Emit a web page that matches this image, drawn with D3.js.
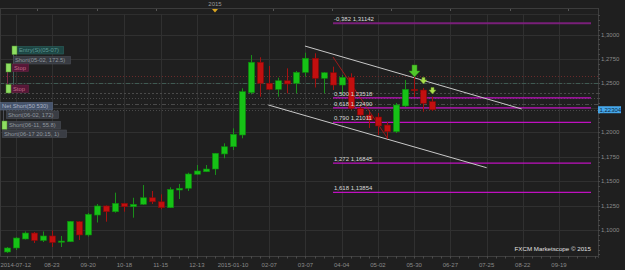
<!DOCTYPE html>
<html>
<head>
<meta charset="utf-8">
<script src="https://d3js.org/d3.v7.min.js"></script>
<style>
  body { margin: 0; background: #1f1f1f; }
  svg { display: block; font-family: "Liberation Sans", Arial, sans-serif; }
</style>
</head>
<body>
<svg id="grafico" width="625" height="270"></svg>
<script>
// Semanas (índice de vela) e valores OHLC
let abertura = [1.0775,1.0816,1.0908,1.0969,1.0893,1.0939,1.0882,1.0880,1.1085,1.0949,1.1153,1.1246,1.1187,1.1273,1.1238,1.1263,1.1330,1.1289,1.1228,1.1409,1.1427,1.1570,1.1596,1.1624,1.1778,1.1852,1.1972,1.2405,1.2716,1.2501,1.2439,1.2527,1.2501,1.2613,1.2757,1.2552,1.2609,1.2483,1.2562,1.2245,1.2176,1.2156,1.2074,1.2006,1.2269,1.2439,1.2432,1.2313];
let maxima = [1.0826,1.0928,1.0985,1.0980,1.0985,1.0995,1.0939,1.1092,1.1092,1.1174,1.1266,1.1251,1.1382,1.1276,1.1330,1.1460,1.1399,1.1365,1.1437,1.1471,1.1586,1.1665,1.1665,1.1788,1.1887,1.2040,1.2450,1.2790,1.2767,1.2678,1.2558,1.2654,1.2627,1.2814,1.2808,1.2616,1.2671,1.2586,1.2603,1.2269,1.2207,1.2197,1.2108,1.2299,1.2535,1.2568,1.2453,1.2364];
let minima = [1.0765,1.0795,1.0903,1.0867,1.0877,1.0826,1.0826,1.0877,1.0898,1.0933,1.1077,1.1085,1.1177,1.1187,1.1126,1.1256,1.1266,1.1212,1.1225,1.1317,1.1399,1.1563,1.1593,1.1563,1.1734,1.1818,1.1938,1.2388,1.2364,1.2432,1.2364,1.2398,1.2398,1.2568,1.2458,1.2398,1.2432,1.2381,1.2228,1.2166,1.2043,1.1972,1.1931,1.1992,1.2258,1.2361,1.2210,1.2217];
let fechamento = [1.0816,1.0918,1.0969,1.0893,1.0939,1.0872,1.0887,1.1089,1.0949,1.1161,1.1246,1.1187,1.1273,1.1238,1.1263,1.1330,1.1289,1.1228,1.1416,1.1427,1.1573,1.1604,1.1624,1.1785,1.1852,1.1979,1.2415,1.2716,1.2501,1.2439,1.2527,1.2494,1.2613,1.2757,1.2552,1.2609,1.2483,1.2562,1.2245,1.2176,1.2125,1.2064,1.2006,1.2279,1.2439,1.2425,1.2296,1.22304];

// Rótulos do eixo X (índice da semana)
let rotulosX = ["2014-07-12","08-23","09-20","10-18","11-15","12-13","2015-01-10","02-07","03-07","04-04","05-02","05-30","06-27","07-25","08-22","09-19"];
let indicesX = [1,5,9,13,17,21,25,29,33,37,41,45,49,53,57,61];

// Eixo Y
let ticksY = [1.1, 1.125, 1.15, 1.175, 1.2, 1.225, 1.25, 1.275, 1.3];
let precoAtual = 1.22304;

// Fibonacci
let fibNiveis = ["-0,382","0,500","0,618","0,790","1,272","1,618"];
let fibPrecos = [1.31142, 1.23518, 1.22490, 1.21011, 1.16845, 1.13854];

// Linhas de ordens (horizontais)
let ordensPrecos = [1.2575, 1.2501, 1.2398, 1.2347, 1.2286, 1.2228];

// Canal (índice, preço)
let canalSup = [[32.94, 1.2882], [56.88, 1.2238]];
let canalInf = [[28.89, 1.2279], [53.01, 1.1637]];
let linhaVermelha = [[36.04, 1.2770], [42.11, 1.1931]];

// Setas (índice, preço da ponta)
let setas = [[45, 1.2565], [46, 1.2494], [47, 1.2391]];

// Etiquetas de ordens
let etiquetas = ["Entry(S)(05-07)", "Short(05-02, 172.5)", "Stop", "Stop", "Net Short(50 530)", "Short(06-02, 172)", "Short(06-11, 55.8)", "Short(06-17 20:15, 1)"];

let svg = d3.select("#grafico");
let direita = 598, topo = 14, base = 256;

let fnX = d3.scaleLinear().domain([0, 61]).range([6.7, 559]);
let fnY = d3.scaleLinear().domain([1.1, 1.3]).range([230, 34.5]);

svg.append("rect").attr("width", 625).attr("height", 270).attr("fill", "#1f1f1f");

// faixa superior
svg.append("line").attr("x1", 0).attr("x2", direita).attr("y1", 8.5).attr("y2", 8.5).attr("stroke", "#3c3c3c");
svg.append("line").attr("x1", 0).attr("x2", direita).attr("y1", topo + 0.5).attr("y2", topo + 0.5).attr("stroke", "#2e2e2e");
[37, 97, 156, 273, 332, 391, 450, 510, 568].forEach((x) => {
  svg.append("line").attr("x1", x + 0.5).attr("x2", x + 0.5).attr("y1", 9).attr("y2", 11).attr("stroke", "#555");
});
svg.append("text").text("2015").attr("x", 215).attr("y", 6).attr("text-anchor", "middle")
  .attr("font-size", 6).attr("fill", "#999");
svg.append("path").attr("d", "M212,9 L218,9 L215,12.5 Z").attr("fill", "#d9a520");

// grade
let plot = svg.append("g");
plot.selectAll(".gradeH").data(ticksY).enter().append("line")
  .attr("x1", 0).attr("x2", direita)
  .attr("y1", (d) => Math.round(fnY(d)) + 0.5).attr("y2", (d) => Math.round(fnY(d)) + 0.5)
  .attr("stroke", "#303030");
plot.selectAll(".gradeV").data(indicesX).enter().append("line")
  .attr("x1", (d) => Math.round(fnX(d)) + 0.5).attr("x2", (d) => Math.round(fnX(d)) + 0.5)
  .attr("y1", topo).attr("y2", base)
  .attr("stroke", "#303030");
svg.append("line").attr("x1", 0.5).attr("x2", 0.5).attr("y1", 8).attr("y2", base).attr("stroke", "#3a3a3a");

// linhas de ordens
let estilosOrdens = [
  { cor: "#6a2a2a", dash: "1,2" },
  { cor: "#3f5a52", dash: "4,2,1,2" },
  { cor: "#4a4a4a", dash: "2,2" },
  { cor: "#4a4a4a", dash: "1,2" },
  { cor: "#4a4a4a", dash: "4,2,1,2" },
  { cor: "#4a4a4a", dash: "1,2" }
];
plot.selectAll(".ordem").data(ordensPrecos).enter().append("line")
  .attr("x1", 0).attr("x2", direita)
  .attr("y1", (d) => Math.round(fnY(d)) + 0.5).attr("y2", (d) => Math.round(fnY(d)) + 0.5)
  .attr("stroke", (d, i) => estilosOrdens[i].cor)
  .attr("stroke-dasharray", (d, i) => estilosOrdens[i].dash);

// fibonacci (linhas)
plot.selectAll(".fib").data(fibPrecos).enter().append("line")
  .attr("x1", fnX(36.04)).attr("x2", 591)
  .attr("y1", (d) => fnY(d)).attr("y2", (d) => fnY(d))
  .attr("stroke", (d, i) => (i === 0 ? "#7a1f7a" : "#c010c0"))
  .attr("stroke-width", (d, i) => (i === 0 ? 2 : 1.3));

// canal
[canalSup, canalInf].forEach((seg) => {
  plot.append("line")
    .attr("x1", fnX(seg[0][0])).attr("y1", fnY(seg[0][1]))
    .attr("x2", fnX(seg[1][0])).attr("y2", fnY(seg[1][1]))
    .attr("stroke", "#c8c8c8").attr("stroke-width", 1);
});
plot.append("line")
  .attr("x1", fnX(linhaVermelha[0][0])).attr("y1", fnY(linhaVermelha[0][1]))
  .attr("x2", fnX(linhaVermelha[1][0])).attr("y2", fnY(linhaVermelha[1][1]))
  .attr("stroke", "#c01818").attr("stroke-width", 0.8);

// velas
let velas = abertura.map((o, i) => ({ i: i, o: o, h: maxima[i], l: minima[i], c: fechamento[i] }));
let g = plot.selectAll(".vela").data(velas).enter().append("g");
g.append("line")
  .attr("x1", (d) => Math.round(fnX(d.i)) + 0.5).attr("x2", (d) => Math.round(fnX(d.i)) + 0.5)
  .attr("y1", (d) => fnY(d.h)).attr("y2", (d) => fnY(d.l))
  .attr("stroke", (d) => (d.c >= d.o ? "#1a8f1a" : "#a51212"));
g.append("rect")
  .attr("x", (d) => Math.round(fnX(d.i)) - 2.5)
  .attr("y", (d) => fnY(Math.max(d.o, d.c)))
  .attr("width", 6)
  .attr("height", (d) => Math.max(1.2, Math.abs(fnY(d.o) - fnY(d.c))))
  .attr("fill", (d) => (d.c >= d.o ? "#16c216" : "#c20f0f"))
  .attr("stroke", (d) => (d.c >= d.o ? "#0d8a0d" : "#860909"))
  .attr("stroke-width", 0.6);

// fibonacci (rótulos por cima das velas)
plot.selectAll(".fibRotulo").data(fibPrecos).enter().append("text")
  .text((d, i) => fibNiveis[i] + " " + d.toFixed(5).replace(".", ","))
  .attr("x", fnX(36.04) + 1).attr("y", (d) => fnY(d) - 2)
  .attr("font-size", 6).attr("fill", "#d8d8d8");

// setas
setas.forEach((s, k) => {
  let x = Math.round(fnX(s[0])) + 0.5;
  let y = fnY(s[1]);
  let grande = k === 0;
  let hw = grande ? 5.5 : 3.5, hh = grande ? 6 : 4, sw = grande ? 2.5 : 1.5, sh = grande ? 6 : 2.5;
  plot.append("path")
    .attr("d", `M${x - sw},${y - hh - sh} L${x + sw},${y - hh - sh} L${x + sw},${y - hh} L${x + hw},${y - hh} L${x},${y} L${x - hw},${y - hh} L${x - sw},${y - hh} Z`)
    .attr("fill", grande ? "#4fc82a" : "#a8e04a")
    .attr("stroke", grande ? "#2f8a18" : "#6a9a2a").attr("stroke-width", 0.5);
});

// etiquetas de ordens
let caixas = [
  { x: 12, y: 46, w: 51, fundo: "#1d4644", borda: "#2c6360", texto: "#5f9894", marca: 12 },
  { x: 13, y: 56, w: 57, fundo: "#383b42", borda: "#4a4d55", texto: "#8f969e" },
  { x: 12, y: 63.5, w: 16, fundo: "#561737", borda: "#6a2447", texto: "#c06a8a", marca: 6 },
  { x: 11, y: 84.5, w: 17, fundo: "#561737", borda: "#6a2447", texto: "#c06a8a", marca: 6 },
  { x: 0, y: 102, w: 52, fundo: "#46546c", borda: "#5a6a84", texto: "#aab2c4" },
  { x: 6, y: 110.5, w: 52, fundo: "#3a3d44", borda: "#4a4d55", texto: "#8f969e" },
  { x: 3, y: 121, w: 57, fundo: "#3a3d44", borda: "#4a4d55", texto: "#8f969e", marca: 2 },
  { x: 2, y: 129.5, w: 64, fundo: "#3a3d44", borda: "#4a4d55", texto: "#8f969e" }
];
svg.append("line").attr("x1", 13.5).attr("x2", 13.5).attr("y1", 54).attr("y2", 85).attr("stroke", "#3f5f58");
svg.append("line").attr("x1", 7.5).attr("x2", 7.5).attr("y1", 71).attr("y2", 85).attr("stroke", "#7a2a4a");
svg.append("line").attr("x1", 3.5).attr("x2", 3.5).attr("y1", 110).attr("y2", 121).attr("stroke", "#4a4d55");
caixas.forEach((c, i) => {
  svg.append("rect").attr("x", c.x + 0.5).attr("y", c.y + 0.5).attr("width", c.w).attr("height", 7.5)
    .attr("fill", c.fundo).attr("stroke", c.borda).attr("stroke-width", 0.6);
  let tx = c.marca !== undefined ? Math.max(c.x + 2, c.marca + 7) : c.x + 2;
  svg.append("text").text(etiquetas[i]).attr("x", tx)
    .attr("y", c.y + 6.3).attr("font-size", 5.8).attr("fill", c.texto);
  if (c.marca !== undefined) {
    svg.append("rect").attr("x", c.marca).attr("y", c.y).attr("width", 5).attr("height", 8.5)
      .attr("fill", "#8ede62").attr("stroke", "#4a8a2a").attr("stroke-width", 0.5);
  }
});

// eixo direito
svg.append("line").attr("x1", direita + 0.5).attr("x2", direita + 0.5).attr("y1", 8).attr("y2", 258).attr("stroke", "#3e3e3e");
let menores = d3.range(1.075, 1.3201, 0.005);
svg.selectAll(".tickMenor").data(menores).enter().append("line")
  .attr("x1", direita).attr("x2", direita + 2)
  .attr("y1", (d) => Math.round(fnY(d)) + 0.5).attr("y2", (d) => Math.round(fnY(d)) + 0.5)
  .attr("stroke", "#4a4a4a");
svg.selectAll(".rotuloY").data(ticksY.filter((d) => Math.abs(d - 1.225) > 1e-6)).enter().append("text")
  .text((d) => d.toFixed(4).replace(".", ","))
  .attr("x", 601).attr("y", (d) => fnY(d) + 2)
  .attr("font-size", 6).attr("fill", "#8a8a8a");
svg.append("rect").attr("x", 598).attr("y", fnY(precoAtual) - 3.5).attr("width", 23).attr("height", 7)
  .attr("fill", "#45a6ea");
svg.append("text").text(precoAtual.toFixed(5).replace(".", ",")).attr("x", 599.5).attr("y", fnY(precoAtual) + 2.2)
  .attr("font-size", 6).attr("fill", "#0c2a44");

// eixo inferior
svg.append("line").attr("x1", 0).attr("x2", direita).attr("y1", base + 0.5).attr("y2", base + 0.5).attr("stroke", "#3e3e3e");
svg.selectAll(".tickX").data(d3.range(0, 66)).enter().append("line")
  .attr("x1", (d) => Math.round(fnX(d)) + 0.5).attr("x2", (d) => Math.round(fnX(d)) + 0.5)
  .attr("y1", base).attr("y2", base + 2.5)
  .attr("stroke", "#4a4a4a");
svg.selectAll(".rotuloX").data(indicesX).enter().append("text")
  .text((d, i) => rotulosX[i])
  .attr("x", (d) => fnX(d)).attr("y", 267).attr("text-anchor", "middle")
  .attr("font-size", 6).attr("fill", "#8a8a8a");

// marca d'água
svg.append("text").text("FXCM Marketscope \u00a9 2015").attr("x", 591).attr("y", 250.5)
  .attr("text-anchor", "end").attr("font-size", 6.2).attr("fill", "#e0e0e0");
</script>
</body>
</html>
